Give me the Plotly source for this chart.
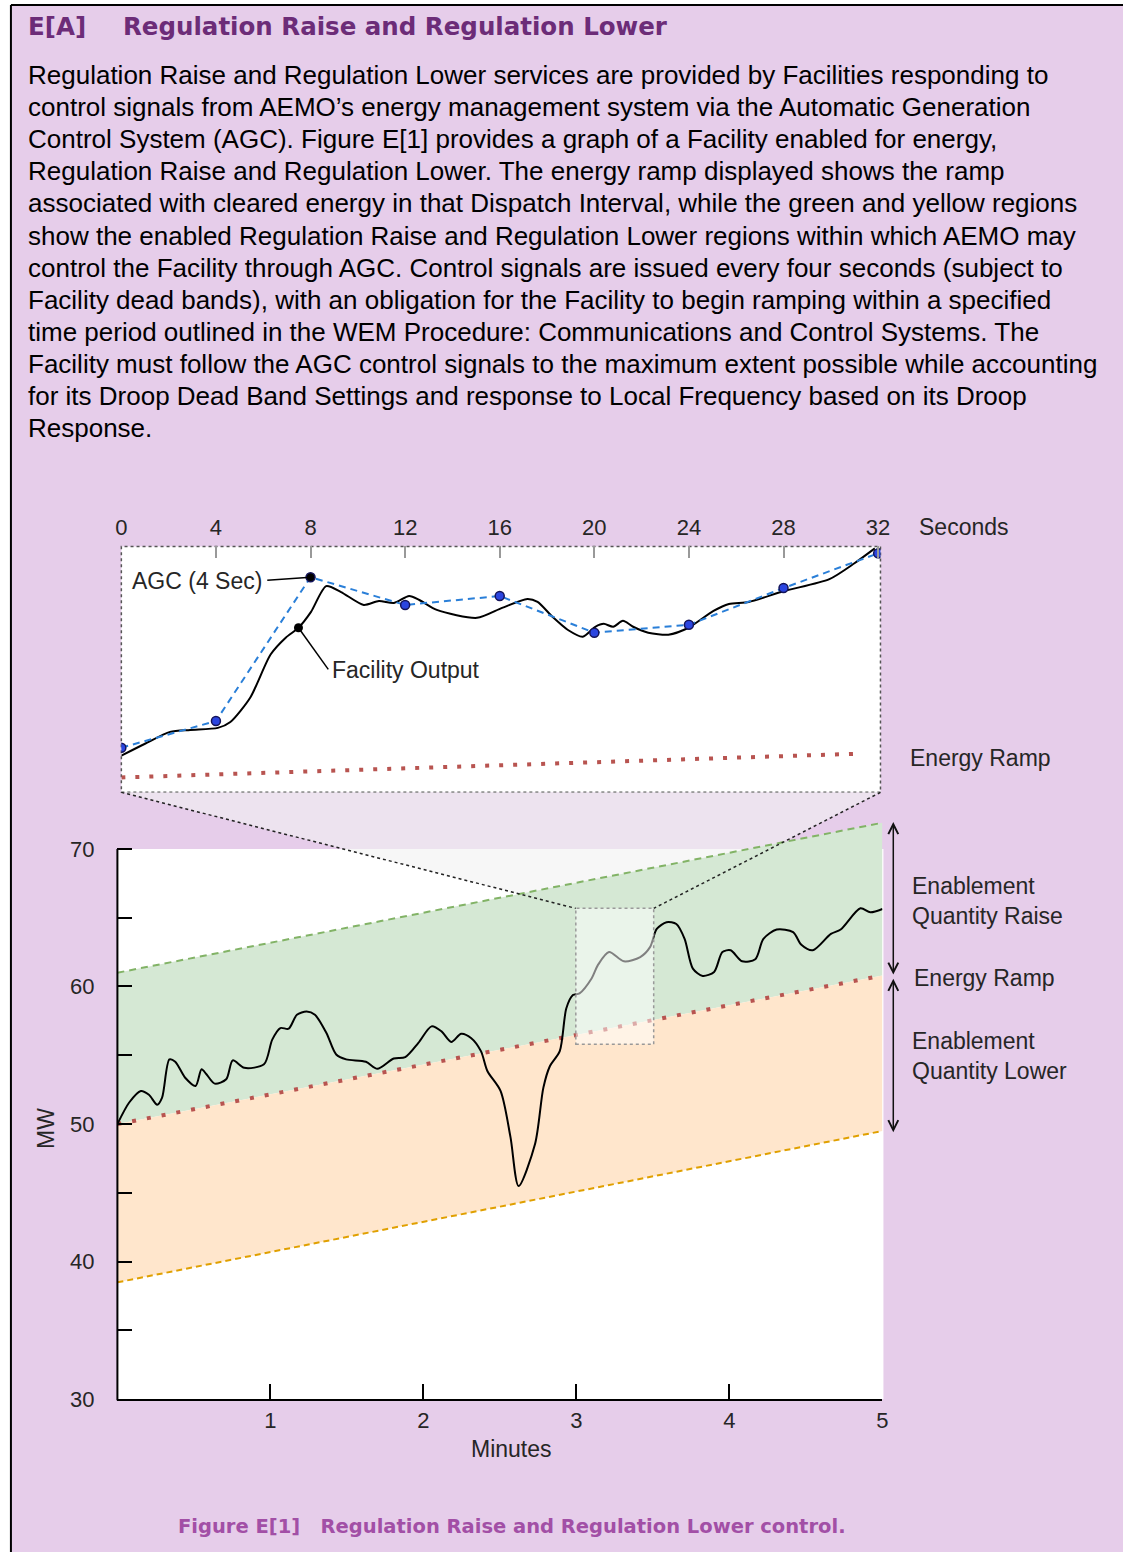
import plotly.graph_objects as go

W, H = 1133, 1565


def px(x):
    return x / W


def py(y):
    return 1 - y / H


# %% data
# main chart: 5-minute dispatch interval (minutes, MW)
band_min = [0, 5]
ramp_mw = [50.0, 60.8]
raise_mw = [61.0, 71.9]
lower_mw = [38.5, 49.5]

fac_min = [0.0, 0.077, 0.153, 0.206, 0.26, 0.292, 0.34, 0.378, 0.443, 0.511, 0.55, 0.582, 0.636,
           0.711, 0.754, 0.829, 0.958, 1.012, 1.065, 1.119, 1.173, 1.237, 1.291, 1.366, 1.43, 1.495,
           1.624, 1.699, 1.806, 1.881, 1.967, 2.053, 2.118, 2.182, 2.247, 2.311, 2.376, 2.418, 2.504,
           2.569, 2.622, 2.73, 2.784, 2.827, 2.891, 2.934, 2.977, 3.02, 3.1, 3.14, 3.213, 3.31, 3.417,
           3.481, 3.525, 3.589, 3.653, 3.707, 3.761, 3.825, 3.9, 3.954, 4.008, 4.083, 4.169, 4.222,
           4.309, 4.416, 4.47, 4.545, 4.663, 4.727, 4.856, 4.921, 5.0]
fac_mw = [50.0, 51.57, 52.41, 52.13, 51.41, 51.93, 54.7, 54.53, 53.37, 52.77, 53.98, 53.62, 52.94,
          53.26, 54.63, 54.09, 54.34, 56.14, 56.98, 56.93, 57.94, 58.18, 57.94, 56.62, 55.06, 54.7,
          54.53, 54.02, 54.77, 54.86, 55.9, 57.1, 56.74, 55.97, 56.57, 56.26, 55.3, 53.86, 52.41,
          49.05, 45.5, 48.57, 52.65, 54.22, 55.3, 58.42, 59.38, 59.5, 60.6, 61.55, 62.5, 61.83, 62.14,
          62.86, 64.18, 64.67, 64.54, 63.46, 61.3, 60.77, 61.06, 62.5, 62.63, 61.83, 61.98, 63.46,
          64.14, 63.95, 63.03, 62.63, 63.82, 64.14, 65.68, 65.39, 65.63]

mw_ticks = [30, 35, 40, 45, 50, 55, 60, 65, 70]
mw_labels = ["30", "", "40", "", "50", "", "60", "", "70"]
min_ticks = [1, 2, 3, 4, 5]

# inset: 32-second zoom (seconds, relative output units)
agc_s = [0, 4, 8, 12, 16, 20, 24, 28, 32]
agc_h = [45, 72, 217, 189, 198, 161, 169, 206, 241]

fac_s = [0, 1.0, 2.06, 2.91, 4.08, 4.61, 5.46, 6.31, 6.95, 7.49, 8.02, 8.66, 9.29, 10.25, 10.89,
         11.53, 12.17, 12.6, 13.34, 15.04, 16.1, 17.17, 17.6, 18.23, 18.87, 19.51, 20.04, 20.4, 20.8,
         21.21, 21.64, 22.28, 23.13, 23.98, 25.04, 25.69, 26.53, 28.03, 29.94, 31.0, 31.86]
fac_h = [37, 49, 61, 63, 65, 71, 96, 139, 156, 166, 182, 208, 202, 189, 193, 191, 198, 194, 184,
         176, 186, 195, 192, 177, 164, 157, 167, 170, 167, 173, 167, 161, 159, 166, 183, 190, 192,
         203, 215, 231, 246]

ramp_s = [0, 31.2]
ramp_h = [15, 39]
sec_ticks = [0, 4, 8, 12, 16, 20, 24, 28, 32]

body_lines = [
    "Regulation Raise and Regulation Lower services are provided by Facilities responding to",
    "control signals from AEMO’s energy management system via the Automatic Generation",
    "Control System (AGC). Figure E[1] provides a graph of a Facility enabled for energy,",
    "Regulation Raise and Regulation Lower. The energy ramp displayed shows the ramp",
    "associated with cleared energy in that Dispatch Interval, while the green and yellow regions",
    "show the enabled Regulation Raise and Regulation Lower regions within which AEMO may",
    "control the Facility through AGC. Control signals are issued every four seconds (subject to",
    "Facility dead bands), with an obligation for the Facility to begin ramping within a specified",
    "time period outlined in the WEM Procedure: Communications and Control Systems. The",
    "Facility must follow the AGC control signals to the maximum extent possible while accounting",
    "for its Droop Dead Band Settings and response to Local Frequency based on its Droop",
    "Response.",
]

# %% styling
LAVENDER = "#e6cdea"
GREEN_FILL = "#d5e8d4"
ORANGE_FILL = "#ffe6cc"
GREEN_LINE = "#82b366"
ORANGE_LINE = "#e0a000"
RED_DOT = "#b85450"
AGC_BLUE = "#2a7fd8"
SANS = "Liberation Sans, Arial, sans-serif"
HEAD = "DejaVu Sans, sans-serif"
INK = "#262626"

fig = go.Figure()

# enablement bands
fig.add_trace(go.Scatter(
    x=band_min + band_min[::-1], y=ramp_mw + raise_mw[::-1], fill="toself",
    fillcolor=GREEN_FILL, line={"width": 0}, mode="lines", hoverinfo="skip"))
fig.add_trace(go.Scatter(
    x=band_min + band_min[::-1], y=lower_mw + ramp_mw[::-1], fill="toself",
    fillcolor=ORANGE_FILL, line={"width": 0}, mode="lines", hoverinfo="skip"))
fig.add_trace(go.Scatter(x=band_min, y=raise_mw, mode="lines",
                         line={"color": GREEN_LINE, "width": 2, "dash": "7px,5px"}))
fig.add_trace(go.Scatter(x=band_min, y=lower_mw, mode="lines",
                         line={"color": ORANGE_LINE, "width": 2, "dash": "6px,4px"}))
fig.add_trace(go.Scatter(x=band_min, y=ramp_mw, mode="lines",
                         line={"color": RED_DOT, "width": 4, "dash": "4px,11px"}))
fig.add_trace(go.Scatter(x=fac_min, y=fac_mw, mode="lines",
                         line={"color": "black", "width": 2, "shape": "spline", "smoothing": 0.8}))

# inset traces
fig.add_trace(go.Scatter(x=ramp_s, y=ramp_h, mode="lines", xaxis="x2", yaxis="y2",
                         line={"color": RED_DOT, "width": 4, "dash": "4px,10px"}))
fig.add_trace(go.Scatter(x=fac_s, y=fac_h, mode="lines", xaxis="x2", yaxis="y2",
                         line={"color": "black", "width": 2, "shape": "spline", "smoothing": 0.7}))
fig.add_trace(go.Scatter(
    x=agc_s, y=agc_h, mode="lines+markers", xaxis="x2", yaxis="y2",
    line={"color": AGC_BLUE, "width": 2, "dash": "7px,5px"},
    marker={"size": 9, "color": ["#2b45e0" if i != 2 else "black" for i in range(len(agc_s))],
            "line": {"color": "#14145a", "width": 1.5}}))
fig.add_trace(go.Scatter(x=[fac_s[9]], y=[fac_h[9]], mode="markers", xaxis="x2", yaxis="y2",
                         marker={"size": 9, "color": "black"}))

shapes = [
    # page panel, kept inside the page so nothing overflows
    dict(type="rect", xref="paper", yref="paper", x0=px(5), y0=0, x1=1, y1=py(5),
         fillcolor=LAVENDER, line={"width": 0}, layer="below"),
    dict(type="line", xref="paper", yref="paper", x0=px(5), y0=0, x1=px(5), y1=py(5),
         line={"color": "black", "width": 2}),
    dict(type="line", xref="paper", yref="paper", x0=px(5), y0=py(5), x1=1, y1=py(5),
         line={"color": "black", "width": 2}),
    # main plot background
    dict(type="rect", xref="paper", yref="paper", x0=px(113), y0=py(1411), x1=px(890), y1=py(856),
         fillcolor="white", line={"width": 0}, layer="below"),
    # inset panel
    dict(type="rect", xref="paper", yref="paper", x0=px(117), y0=py(799), x1=px(887), y1=py(551),
         fillcolor="white", line={"color": "#555", "width": 1.5, "dash": "dot"}, layer="below"),
    # zoom wedge
    dict(type="path", xref="paper", yref="paper", layer="below",
         path=f"M {px(117)},{py(799)} L {px(887)},{py(799)} L {px(657)},{py(916)} "
              f"L {px(578)},{py(916)} Z",
         fillcolor="rgba(242,242,242,0.6)", line={"width": 0}),
    dict(type="line", xref="paper", yref="paper", x0=px(117), y0=py(799), x1=px(578), y1=py(916),
         line={"color": "#222", "width": 1.5, "dash": "dot"}),
    dict(type="line", xref="paper", yref="paper", x0=px(887), y0=py(799), x1=px(657), y1=py(916),
         line={"color": "#222", "width": 1.5, "dash": "dot"}),
    # zoomed window on main chart
    dict(type="rect", xref="x", yref="y", x0=2.996, x1=3.505, y0=55.8, y1=65.68,
         fillcolor="rgba(255,255,255,0.5)", line={"color": "#999", "width": 1.5, "dash": "dot"}),
    # y axis line (only up to 70)
    dict(type="line", xref="paper", yref="paper", x0=px(113), y0=py(1412), x1=px(113), y1=py(856),
         line={"color": "black", "width": 2}),
    # inset label leaders
    dict(type="line", xref="x2", yref="y2", x0=6.17, y0=214, x1=8, y1=217,
         line={"color": "black", "width": 1.5}),
    dict(type="line", xref="x2", yref="y2", x0=7.49, y0=166, x1=8.75, y1=124,
         line={"color": "black", "width": 1.5}),
]

annotations = [
    dict(text="<b>E[A]</b>", x=px(20), y=py(27), xanchor="left",
         font={"family": HEAD, "size": 24.5, "color": "#6c2c78"}),
    dict(text="<b>Regulation Raise and Regulation Lower</b>", x=px(117), y=py(27), xanchor="left",
         font={"family": HEAD, "size": 24.5, "color": "#6c2c78"}),
    dict(text="<b>Figure E[1]   Regulation Raise and Regulation Lower control.</b>", x=px(172),
         y=py(1539), xanchor="left", font={"family": HEAD, "size": 19.5, "color": "#a24fa6"}),
    dict(text="MW", x=px(40), y=py(1138), xanchor="center", textangle=-90,
         font={"family": SANS, "size": 23, "color": INK}),
    dict(text="Minutes", x=px(513), y=py(1461), xanchor="center",
         font={"family": SANS, "size": 23, "color": INK}),
    dict(text="Seconds", x=px(924), y=py(531), xanchor="left", font={"family": SANS, "size": 23, "color": INK}),
    dict(text="Energy Ramp", x=px(915), y=py(764), xanchor="left", font={"family": SANS, "size": 23, "color": INK}),
    dict(text="Enablement<br>Quantity Raise", x=px(917), y=py(909), xanchor="left", align="left",
         font={"family": SANS, "size": 23, "color": INK}),
    dict(text="Energy Ramp", x=px(919), y=py(986), xanchor="left", font={"family": SANS, "size": 23, "color": INK}),
    dict(text="Enablement<br>Quantity Lower", x=px(917), y=py(1065), xanchor="left", align="left",
         font={"family": SANS, "size": 23, "color": INK}),
    dict(text="AGC (4 Sec)", x=px(262), y=py(586), xanchor="right", font={"family": SANS, "size": 23, "color": INK}),
    dict(text="Facility Output", x=px(329), y=py(676), xanchor="left", font={"family": SANS, "size": 23, "color": INK}),
    # double-headed arrows for the enablement quantities
    dict(text="", x=px(900), y=py(829), ax=0, ay=154, showarrow=True, arrowside="end+start",
         arrowhead=5, arrowsize=1.3, arrowwidth=1.5, arrowcolor="#111", standoff=0, startstandoff=0),
    dict(text="", x=px(900), y=py(987), ax=0, ay=155, showarrow=True, arrowside="end+start",
         arrowhead=5, arrowsize=1.3, arrowwidth=1.5, arrowcolor="#111", standoff=0, startstandoff=0),
]
for i, line in enumerate(body_lines):
    annotations.append(dict(text=line, x=px(20), y=py(76 + i * 32.3), xanchor="left",
                            font={"family": SANS, "size": 26, "color": "black"}))
for a in annotations:
    a.setdefault("xref", "paper")
    a.setdefault("yref", "paper")
    a.setdefault("showarrow", False)
    a.setdefault("yanchor", "middle")

fig.update_layout(
    width=W, height=H, margin={"l": 0, "r": 0, "t": 0, "b": 0},
    paper_bgcolor="white", plot_bgcolor="rgba(0,0,0,0)", showlegend=False,
    shapes=shapes, annotations=annotations,
    xaxis=dict(domain=[px(113), px(889)], range=[0, 5], tickvals=min_ticks, ticks="inside",
               ticklen=15, tickwidth=2, tickcolor="black", showline=True, linecolor="black",
               linewidth=2, showgrid=False, zeroline=False, anchor="y",
               tickfont={"family": SANS, "size": 22, "color": INK}),
    yaxis=dict(domain=[py(1411), py(825.5)], range=[30, 30 + (1411 - 825.5) / 13.875],
               tickvals=mw_ticks, ticktext=mw_labels, ticks="inside", ticklen=15, tickwidth=2,
               tickcolor="black", showline=False, showgrid=False, zeroline=False, anchor="x",
               ticklabelstandoff=22, tickfont={"family": SANS, "size": 22, "color": INK}),
    xaxis2=dict(domain=[px(117), px(887)], range=[0, 32.1], side="top", anchor="y2",
                tickvals=sec_ticks, ticks="inside", ticklen=12, tickwidth=1.5, tickcolor="#999",
                showline=False, showgrid=False, zeroline=False, ticklabelstandoff=6,
                tickfont={"family": SANS, "size": 22, "color": INK}),
    yaxis2=dict(domain=[py(799), py(551)], range=[0, 248], anchor="x2", visible=False),
)

# drop the browser's default body margin so the figure sits flush in the window
fig.write_html("out.html", config={"displayModeBar": False},
               post_script="document.body.style.margin='0';"
                           "document.body.style.overflow='hidden';")
